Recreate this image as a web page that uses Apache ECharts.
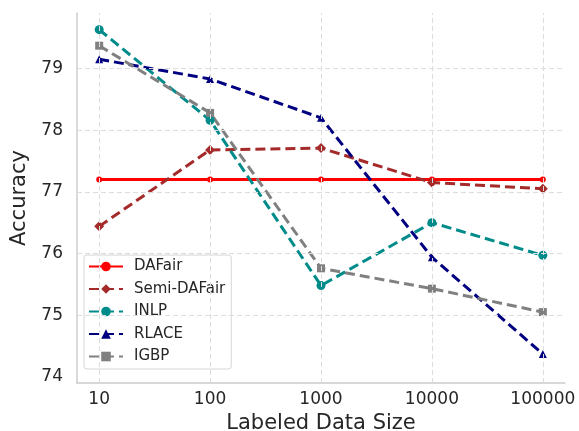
<!DOCTYPE html>
<html><head><meta charset="utf-8">
<script src="https://cdn.jsdelivr.net/npm/echarts@6/dist/echarts.min.js"></script>
<style>html,body{margin:0;padding:0;background:#fff}#c{width:579px;height:431px}</style>
</head><body><div id="c"></div>
<script>
const sizes = [10, 100, 1000, 10000, 100000];
const yTicks = [74, 75, 76, 77, 78, 79];
const dafair = [77.2, 77.2, 77.2, 77.2, 77.2];
const semiDafair = [76.44, 77.68, 77.71, 77.15, 77.05];
const inlp = [79.63, 78.16, 75.48, 76.5, 75.97];
const rlace = [79.15, 78.83, 78.2, 75.94, 74.37];
const igbp = [79.37, 78.28, 75.76, 75.43, 75.05];

const chart = echarts.init(document.getElementById('c'), null, {renderer: 'canvas'});
const font = 'DejaVu Sans';
function pts(arr) { return sizes.map((s, i) => [s, arr[i]]); }
function mk(name, arr, color, symbol, symbolSize, dashed) {
  return {
    name, type: 'line', data: pts(arr), symbol, symbolSize,
    itemStyle: {color: color, borderColor: color, borderWidth: 0, opacity: 1},
    lineStyle: {color, width: 3, type: dashed ? [10, 5] : 'solid'},
    emphasis: {disabled: true},
    z: 3
  };
}
const gridStyle = {color: '#dddddd', width: 1, type: [5, 3]};
const series = [
  {
    name: '_grid', type: 'line', data: [], silent: true, z: 1,
    markLine: {
      silent: true, symbol: 'none', label: {show: false}, animation: false,
      lineStyle: gridStyle,
      data: sizes.map(s => ({xAxis: s})).concat(yTicks.slice(1).map(v => ({yAxis: v})))
    }
  },
  mk('DAFair', dafair, '#ff0000', 'circle', 6, false),
  mk('Semi-DAFair', semiDafair, '#a52a2a', 'diamond', 10, true),
  mk('INLP', inlp, '#008b8b', 'circle', 9, true),
  mk('RLACE', rlace, '#000080', 'triangle', 8, true),
  mk('IGBP', igbp, '#808080', 'rect', 8, true)
];

chart.setOption({
  animation: false,
  backgroundColor: '#ffffff',
  grid: {left: 77, right: 14, top: 13, bottom: 48, containLabel: false, outerBoundsMode: 'none'},
  legend: {
    data: ['DAFair', 'Semi-DAFair', 'INLP', 'RLACE', 'IGBP'],
    orient: 'vertical', left: 84, top: 255,
    backgroundColor: '#ffffff', borderColor: '#d6d6d6', borderWidth: 1, borderRadius: 3,
    padding: [4, 6, 5, 4], itemGap: 7.5, itemWidth: 34, itemHeight: 12,
    textStyle: {fontFamily: font, fontSize: 15, color: '#262626', padding: [0, 0, 0, 6]}
  },
  xAxis: {
    type: 'log', logBase: 10, min: Math.pow(10, 0.8), max: Math.pow(10, 5.2),
    name: 'Labeled Data Size', nameLocation: 'middle', nameGap: 26,
    nameTextStyle: {fontFamily: font, fontSize: 21, color: '#262626'},
    axisLine: {show: true, lineStyle: {color: '#cccccc', width: 1.5}},
    axisTick: {show: false}, splitLine: {show: false},
    axisLabel: {fontFamily: font, fontSize: 17, color: '#262626', margin: 8,
      showMinLabel: false, showMaxLabel: false,
      formatter: v => sizes.includes(Math.round(v)) ? String(Math.round(v)) : ''}
  },
  yAxis: {
    type: 'value', min: 73.9, max: 79.9, interval: 0.1,
    name: 'Accuracy', nameLocation: 'middle', nameGap: 40, nameRotate: 90,
    nameTextStyle: {fontFamily: font, fontSize: 21, color: '#262626'},
    axisLine: {show: true, lineStyle: {color: '#cccccc', width: 1.5}},
    axisTick: {show: false}, splitLine: {show: false},
    axisLabel: {fontFamily: font, fontSize: 17, color: '#262626', margin: 14,
      formatter: v => {
        const r = Math.round(v);
        return (Math.abs(v - r) < 1e-6 && yTicks.includes(r)) ? String(r) : '';
      }}
  },
  series
});
</script></body></html>
